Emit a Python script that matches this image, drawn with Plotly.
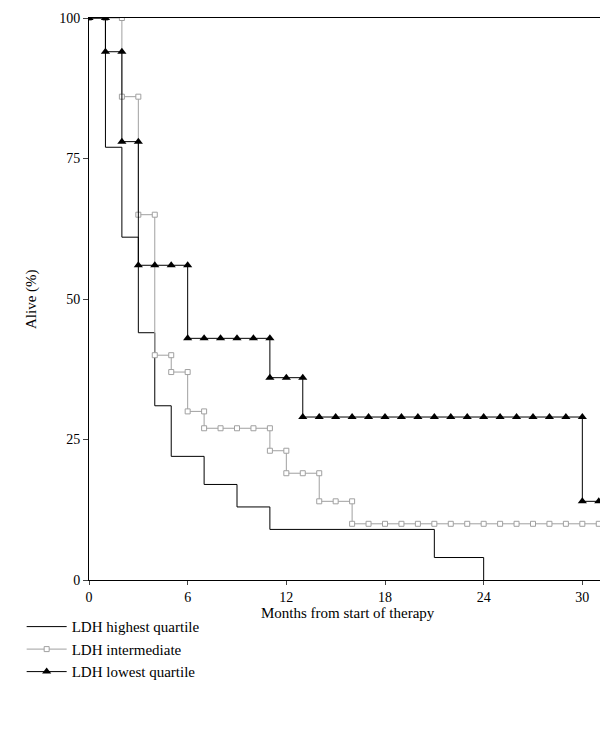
import plotly.graph_objects as go

# step curves: (start month of each level, level in %), last entry = end of curve
high_t = [0, 1, 2, 3, 4, 5, 7, 9, 11, 21, 24]
high_v = [100, 77, 61, 44, 31, 22, 17, 13, 9, 4, 0]

mid_t = [0, 2, 3, 4, 5, 6, 7, 11, 12, 14, 16, 31.5]
mid_v = [100, 86, 65, 40, 37, 30, 27, 23, 19, 14, 10, 10]

low_t = [0, 1, 2, 3, 6, 11, 13, 30, 31.5]
low_v = [100, 94, 78, 56, 43, 36, 29, 14, 14]

xticks = [0, 6, 12, 18, 24, 30]
yticks = [0, 25, 50, 75, 100]


def marks(ts, vs):
    # markers at every whole month on each level
    xs, ys = [], []
    for i in range(len(ts) - 1):
        a, b = ts[i], min(ts[i + 1], 31)
        m = int(a)
        while m <= b:
            xs.append(m)
            ys.append(vs[i])
            m += 1
    return xs, ys


fig = go.Figure()
fig.add_trace(go.Scatter(x=high_t, y=high_v, mode="lines", line_shape="hv",
                         line=dict(color="black", width=1), name="LDH highest quartile"))

mx, my = marks(mid_t, mid_v)
fig.add_trace(go.Scatter(x=mid_t, y=mid_v, mode="lines", line_shape="hv",
                         line=dict(color="#a0a0a0", width=1), showlegend=False))
fig.add_trace(go.Scatter(x=mx, y=my, mode="markers",
                         marker=dict(symbol="square", size=5, color="white",
                                     line=dict(color="#a0a0a0", width=1)),
                         showlegend=False))
fig.add_trace(go.Scatter(x=[None], y=[None], mode="lines+markers",
                         line=dict(color="#a0a0a0", width=1),
                         marker=dict(symbol="square", size=5, color="white",
                                     line=dict(color="#a0a0a0", width=1)),
                         name="LDH intermediate"))

lx, ly = marks(low_t, low_v)
fig.add_trace(go.Scatter(x=low_t, y=low_v, mode="lines", line_shape="hv",
                         line=dict(color="black", width=1), showlegend=False))
fig.add_trace(go.Scatter(x=lx, y=ly, mode="markers",
                         marker=dict(symbol="triangle-up", size=8, color="black"),
                         showlegend=False))
fig.add_trace(go.Scatter(x=[None], y=[None], mode="lines+markers",
                         line=dict(color="black", width=1),
                         marker=dict(symbol="triangle-up", size=8, color="black"),
                         name="LDH lowest quartile"))

fig.update_layout(
    width=608, height=743, plot_bgcolor="white", paper_bgcolor="white",
    margin=dict(l=81, r=9, t=10, b=171),
    font=dict(family="Liberation Serif", size=14, color="black"),
    legend=dict(x=-0.13, y=-0.054, xanchor="left", yanchor="top",
                font=dict(size=15), tracegroupgap=0, itemwidth=40),
    annotations=[
        dict(text="Months from start of therapy", xref="paper", yref="paper",
             x=0.5, y=-0.058, xanchor="center", yanchor="middle",
             showarrow=False, font=dict(size=15)),
        dict(text="Alive (%)", xref="paper", yref="paper", x=-0.112, y=0.5,
             xanchor="center", yanchor="middle", textangle=-90,
             showarrow=False, font=dict(size=15)),
    ],
)
fig.update_xaxes(range=[0, 31.5], tickvals=xticks, ticks="outside", ticklen=4,
                 showline=True, linecolor="black", mirror=True, showgrid=False,
                 zeroline=False, automargin=False)
fig.update_yaxes(range=[0, 100], tickvals=yticks, ticks="outside", ticklen=5,
                 showline=True, linecolor="black", mirror=True, showgrid=False,
                 zeroline=False, automargin=False)

fig.write_html("out.html")
